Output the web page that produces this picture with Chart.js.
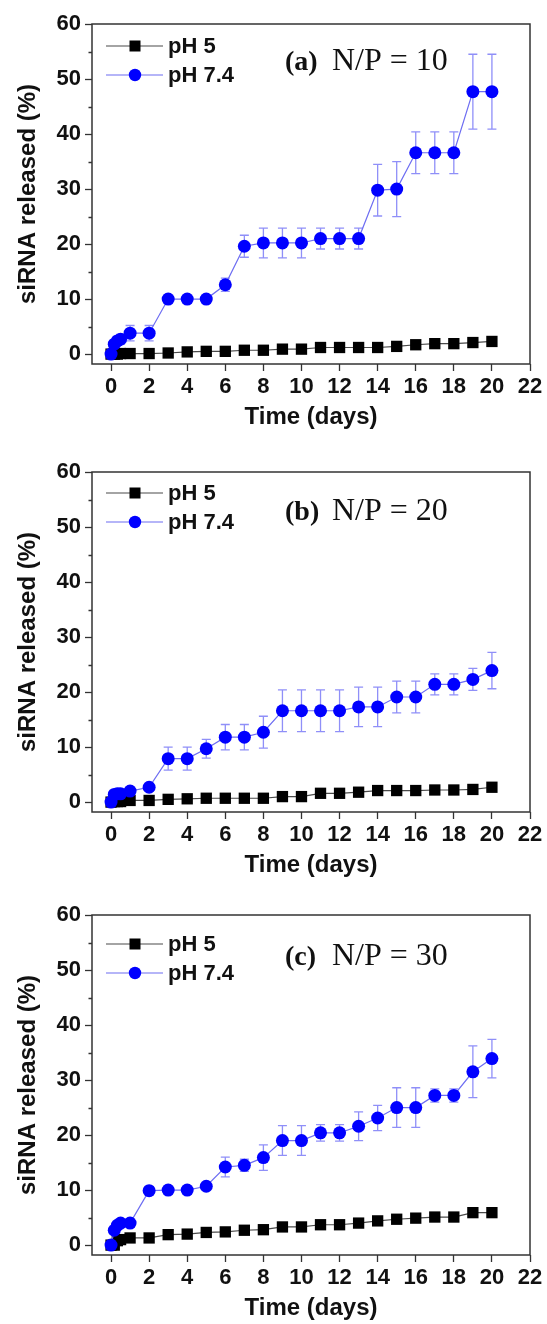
<!DOCTYPE html>
<html>
<head>
<meta charset="utf-8">
<script src="https://cdn.jsdelivr.net/npm/chart.js@4.4.1/dist/chart.umd.min.js"></script>
<style>
  body { margin: 0; background: #fff; width: 547px; height: 1324px; overflow: hidden; position: relative; }
  canvas { position: absolute; left: 0; }
</style>
</head>
<body>
<canvas id="chartA" width="547" height="433" style="top:0px"></canvas>
<canvas id="chartB" width="547" height="433" style="top:448px"></canvas>
<canvas id="chartC" width="547" height="433" style="top:891px"></canvas>
<script>
// sampling times (days)
const days = [0, 0.17, 0.33, 0.5, 1, 2, 3, 4, 5, 6, 7, 8, 9, 10, 11, 12, 13, 14, 15, 16, 17, 18, 19, 20];

const xTicks = [0, 2, 4, 6, 8, 10, 12, 14, 16, 18, 20, 22];
const yTicks = [0, 10, 20, 30, 40, 50, 60];
const yMinorTicks = [5, 15, 25, 35, 45, 55];

const seriesNames = ["pH 5", "pH 7.4"];

// (a) N/P = 10
const ph5A  = [0, 0, 0, 0.1, 0.1, 0.1, 0.2, 0.4, 0.5, 0.5, 0.7, 0.7, 0.9, 0.9, 1.2, 1.2, 1.2, 1.2, 1.4, 1.7, 1.9, 1.9, 2.1, 2.3];
const ph74A = [0, 1.8, 2.4, 2.7, 3.8, 3.8, 10.0, 10.0, 10.0, 12.6, 19.6, 20.2, 20.2, 20.2, 21.0, 21.0, 21.0, 29.8, 30.0, 36.6, 36.6, 36.6, 47.7, 47.7];
const errA  = [0, 0.5, 0.8, 0.9, 1.4, 1.4, 0, 0, 0, 1.2, 2.0, 2.7, 2.7, 2.7, 1.9, 1.9, 1.9, 4.7, 5.0, 3.8, 3.8, 3.8, 6.8, 6.8];

// (b) N/P = 20
const ph5B  = [0, 0.1, 0.1, 0.1, 0.3, 0.3, 0.5, 0.6, 0.7, 0.7, 0.7, 0.7, 1.0, 1.0, 1.6, 1.6, 1.8, 2.1, 2.1, 2.1, 2.2, 2.2, 2.3, 2.7];
const ph74B = [0, 1.4, 1.5, 1.5, 2.0, 2.7, 7.9, 7.9, 9.7, 11.8, 11.8, 12.7, 16.6, 16.6, 16.6, 16.6, 17.3, 17.3, 19.1, 19.1, 21.4, 21.4, 22.3, 23.9];
const errB  = [0, 0, 0, 0, 0, 0, 2.1, 2.1, 1.7, 2.3, 2.3, 2.9, 3.8, 3.8, 3.8, 3.8, 3.6, 3.6, 2.9, 2.9, 1.9, 1.9, 2.0, 3.3];

// (c) N/P = 30
const ph5C  = [0, 0, 0.8, 1.0, 1.3, 1.3, 1.9, 2.0, 2.3, 2.4, 2.7, 2.8, 3.3, 3.3, 3.7, 3.7, 4.0, 4.4, 4.7, 4.9, 5.1, 5.1, 5.9, 5.9];
const ph74C = [0, 2.7, 3.6, 4.0, 4.0, 9.9, 10.0, 10.0, 10.7, 14.2, 14.5, 15.9, 19.0, 19.0, 20.4, 20.4, 21.6, 23.1, 25.0, 25.0, 27.2, 27.2, 31.5, 33.9];
const errC  = [0, 0, 0, 0, 0, 0, 0, 0, 0, 1.8, 1.1, 2.3, 2.7, 2.7, 1.5, 1.5, 2.6, 2.3, 3.6, 3.6, 1.2, 1.2, 4.7, 3.5];

const sansFont = "'Liberation Sans', Arial, Helvetica, sans-serif";
const serifFont = "'Liberation Serif', 'Times New Roman', serif";
const blueLine = "#6d6df2";
const blackLine = "#4a4a4a";

function toPoints(values) {
    return values.map((v, i) => ({x: days[i], y: v}));
}

// frame, minor ticks, error bars, legend and panel note
const panelDeco = {
    id: "panelDeco",
    beforeDatasetsDraw(chart, args, opts) {
        const ctx = chart.ctx;
        const xs = chart.scales.x, ys = chart.scales.y;
        const vals = chart.data.datasets[0].data;
        ctx.save();
        ctx.strokeStyle = "rgba(105,105,245,0.75)";
        ctx.lineWidth = 1.3;
        opts.errors.forEach((e, i) => {
            if (!e) return;
            const px = xs.getPixelForValue(vals[i].x);
            const top = ys.getPixelForValue(vals[i].y + e);
            const bot = ys.getPixelForValue(vals[i].y - e);
            ctx.beginPath();
            ctx.moveTo(px, top); ctx.lineTo(px, bot);
            ctx.moveTo(px - 4.5, top); ctx.lineTo(px + 4.5, top);
            ctx.moveTo(px - 4.5, bot); ctx.lineTo(px + 4.5, bot);
            ctx.stroke();
        });
        ctx.restore();
    },
    afterDraw(chart, args, opts) {
        const ctx = chart.ctx;
        const a = chart.chartArea;
        const ys = chart.scales.y;
        ctx.save();
        ctx.strokeStyle = "#333";
        ctx.lineWidth = 1.5;
        ctx.strokeRect(a.left, a.top, a.right - a.left, a.bottom - a.top);
        ctx.lineWidth = 1.3;
        ctx.beginPath();
        yMinorTicks.forEach(v => {
            const py = Math.round(ys.getPixelForValue(v)) + 0.5;
            ctx.moveTo(a.left, py); ctx.lineTo(a.left - 3.5, py);
        });
        ctx.stroke();

        // legend
        const ly = a.top + opts.legendTop;
        const rows = [
            {y: ly, color: blackLine, fill: "#000", shape: "rect", text: seriesNames[0]},
            {y: ly + 29, color: blueLine, fill: "#0000ff", shape: "circle", text: seriesNames[1]}
        ];
        rows.forEach(r => {
            ctx.strokeStyle = r.color;
            ctx.lineWidth = 1.2;
            ctx.beginPath();
            ctx.moveTo(a.left + 14, r.y); ctx.lineTo(a.left + 71, r.y);
            ctx.stroke();
            ctx.fillStyle = r.fill;
            if (r.shape === "rect") {
                ctx.fillRect(a.left + 43 - 5.5, r.y - 5.5, 11, 11);
            } else {
                ctx.beginPath();
                ctx.arc(a.left + 43, r.y, 6.2, 0, Math.PI * 2);
                ctx.fill();
            }
            ctx.fillStyle = "#111";
            ctx.font = "bold 22px " + sansFont;
            ctx.textBaseline = "middle";
            ctx.textAlign = "left";
            ctx.fillText(r.text, a.left + 76, r.y + 1);
        });

        // panel note
        const by = a.top + opts.noteBaseline;
        ctx.textBaseline = "alphabetic";
        ctx.fillStyle = "#111";
        ctx.font = "bold 28px " + serifFont;
        ctx.fillText(opts.letter, 285, by);
        ctx.font = "32px " + serifFont;
        ctx.fillText(opts.note, 332, by);
        ctx.restore();
    }
};

function createPanel(id, ph5, ph74, errs, letter, note, legendTop, noteBaseline) {
    return new Chart(document.getElementById(id), {
        type: "line",
        data: {
            datasets: [{
                label: seriesNames[1],
                data: toPoints(ph74),
                borderColor: blueLine,
                borderWidth: 1.2,
                pointStyle: "circle",
                pointRadius: 6.5,
                pointBackgroundColor: "#0000ff",
                pointBorderColor: "#0000ff",
                pointBorderWidth: 0,
                order: 0
            }, {
                label: seriesNames[0],
                data: toPoints(ph5),
                borderColor: blackLine,
                borderWidth: 1.2,
                pointStyle: "rect",
                pointRadius: 8,
                pointBackgroundColor: "#000",
                pointBorderColor: "#000",
                pointBorderWidth: 0,
                order: 1
            }]
        },
        options: {
            responsive: false,
            animation: false,
            devicePixelRatio: 1,
            layout: {padding: {top: 24, right: 17, bottom: 0, left: 0}},
            plugins: {
                legend: {display: false},
                tooltip: {enabled: false},
                panelDeco: {errors: errs, letter: letter, note: note, legendTop: legendTop, noteBaseline: noteBaseline}
            },
            scales: {
                x: {
                    type: "linear",
                    min: -1,
                    max: 22,
                    afterBuildTicks: s => { s.ticks = xTicks.map(v => ({value: v})); },
                    afterFit: s => { s.height = 69; },
                    grid: {drawOnChartArea: false, drawTicks: true, tickLength: 7, tickWidth: 1.3, tickColor: "#333"},
                    border: {display: false},
                    ticks: {color: "#111", font: {family: sansFont, size: 22, weight: "bold"}, padding: 3, maxRotation: 0, autoSkip: false},
                    title: {display: true, text: "Time (days)", color: "#111", font: {family: sansFont, size: 24, weight: "bold"}, padding: {top: 1, bottom: 1}}
                },
                y: {
                    min: -1.8,
                    max: 60,
                    afterBuildTicks: s => { s.ticks = yTicks.map(v => ({value: v})); },
                    afterFit: s => { s.width = 92; },
                    grid: {drawOnChartArea: false, drawTicks: true, tickLength: 7, tickWidth: 1.3, tickColor: "#333"},
                    border: {display: false},
                    ticks: {color: "#111", font: {family: sansFont, size: 22, weight: "bold"}, padding: 4},
                    title: {display: true, text: "siRNA released (%)", color: "#111", font: {family: sansFont, size: 24, weight: "bold"}, padding: {top: 14, bottom: 14}}
                }
            }
        },
        plugins: [panelDeco]
    });
}

createPanel("chartA", ph5A, ph74A, errA, "(a)", "N/P = 10", 22, 46);
createPanel("chartB", ph5B, ph74B, errB, "(b)", "N/P = 20", 21, 48);
createPanel("chartC", ph5C, ph74C, errC, "(c)", "N/P = 30", 29, 50);
</script>
</body>
</html>
